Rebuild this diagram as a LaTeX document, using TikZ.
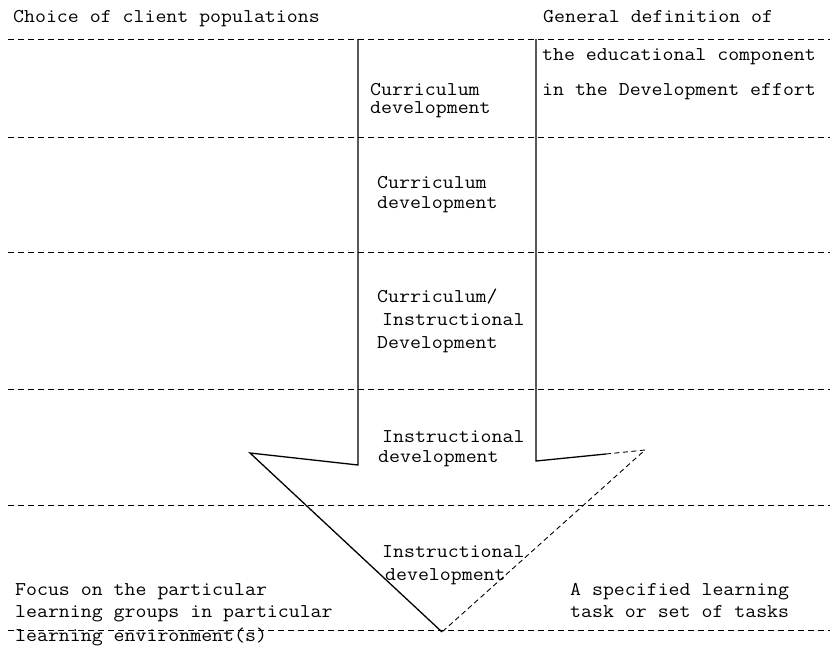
\documentclass[tikz,border=0pt]{standalone}
\usepackage{graphicx}
\usepackage{fontspec}
% typewriter face, widened to the 11.2pt pitch of the printout
\newcommand{\tw}[1]{\scalebox{1.09}[1]{#1}}
\begin{document}
\begin{tikzpicture}[x=1pt,y=-1pt,
  lbl/.style={anchor=base west,inner sep=0pt,font=\ttfamily\fontsize{19.5}{21}\selectfont},
  rowrule/.style={line width=0.8pt,dash pattern=on 6pt off 4pt},
  shaft/.style={line width=1.3pt,line join=miter},
  faint/.style={line width=0.9pt,dash pattern=on 5pt off 3.5pt}]
\useasboundingbox (0,0) rectangle (830,656);
\fill[white] (0,0) rectangle (830,656);

% row separators
\foreach \yy in {39,137,252,389,505,630}
  \draw[rowrule] (8,\yy) -- (830,\yy);

% the big downward arrow
\coordinate (sl) at (358,39);
\coordinate (sr) at (536,39);
\coordinate (bl) at (358,465);
\coordinate (br) at (536,461);
\coordinate (cl) at (250,453);
\coordinate (cm) at (606,454);
\coordinate (cr) at (645,450);
\coordinate (tip) at (442,632);
\draw[shaft] (sl) -- (bl) -- (cl) -- (tip);
\draw[shaft] (sr) -- (br) -- (cm);
\draw[faint] (cm) -- (cr) -- (tip);

% column headings
\node[lbl] (hl) at (13,22) {\tw{Choice of client populations}};
\node[lbl] (hr) at (543,22) {\tw{General definition of}};

% right column, first row
\node[lbl] (r1a) at (542,60) {\tw{the educational component}};
\node[lbl] (r1b) at (542,95) {\tw{in the Development effort}};

% labels inside the arrow
\node[lbl] (a1a) at (370,95) {\tw{Curriculum}};
\node[lbl] (a1b) at (370,113) {\tw{development}};
\node[lbl] (a2a) at (377,188) {\tw{Curriculum}};
\node[lbl] (a2b) at (377,208) {\tw{development}};
\node[lbl] (a3a) at (377,302) {\tw{Curriculum/}};
\node[lbl] (a3b) at (382,325) {\tw{Instructional}};
\node[lbl] (a3c) at (377,348) {\tw{Development}};
\node[lbl] (a4a) at (382,442) {\tw{Instructional}};
\node[lbl] (a4b) at (378,462) {\tw{development}};
\node[lbl] (a5a) at (382,557) {\tw{Instructional}};
\node[lbl] (a5b) at (385,580) {\tw{development}};

% bottom row
\node[lbl] (b1) at (15,595) {\tw{Focus on the particular}};
\node[lbl] (b2) at (15,617) {\tw{learning groups in particular}};
\node[lbl] (b3) at (15,641) {\tw{learning environment(s)}};
\node[lbl] (c1) at (570,595) {\tw{A specified learning}};
\node[lbl] (c2) at (570,617) {\tw{task or set of tasks}};
\end{tikzpicture}
\end{document}
